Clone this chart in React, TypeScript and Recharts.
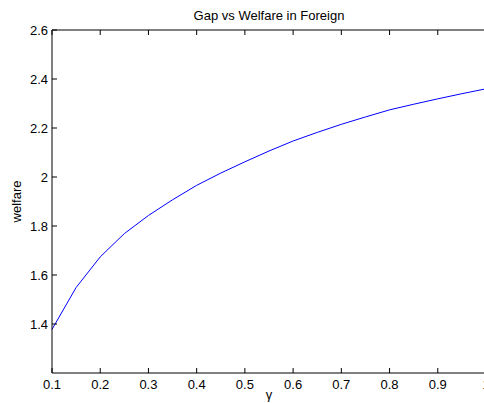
import React from 'react';
import { LineChart, Line, XAxis, YAxis, Label } from 'recharts';

// gamma grid and the welfare values
const gammaValues = [
  0.1, 0.15, 0.2, 0.25, 0.3, 0.35, 0.4, 0.45, 0.5, 0.55,
  0.6, 0.65, 0.7, 0.75, 0.8, 0.85, 0.9, 0.95, 1.0,
];
const welfareValues = [
  1.378, 1.549, 1.674, 1.769, 1.843, 1.907, 1.966, 2.016, 2.062, 2.106,
  2.147, 2.182, 2.215, 2.245, 2.274, 2.297, 2.319, 2.34, 2.36,
];
const xTicks = [0.1, 0.2, 0.3, 0.4, 0.5, 0.6, 0.7, 0.8, 0.9, 1];
const yTicks = [1.4, 1.6, 1.8, 2, 2.2, 2.4, 2.6];

const data = gammaValues.map((g, i) => ({ gamma: g, welfare: welfareValues[i] }));

const font = '"Liberation Sans", Arial, Helvetica, sans-serif';
const FS = 13;
const TICK = 5;

const BottomTick = (props: any) => {
  const { x, y, payload } = props;
  return (
    <g>
      <line x1={x} x2={x} y1={y} y2={y - TICK} stroke="#000" />
      <text x={x} y={y + 16} textAnchor="middle" fontSize={FS} fontFamily={font} fill="#000">
        {String(payload.value)}
      </text>
    </g>
  );
};

const TopTick = (props: any) => {
  const { x, y } = props;
  return <line x1={x} x2={x} y1={y} y2={y + TICK} stroke="#000" />;
};

const LeftTick = (props: any) => {
  const { x, y, payload } = props;
  return (
    <g>
      <line x1={x} x2={x + TICK} y1={y} y2={y} stroke="#000" />
      <text x={x - 4} y={y + 5} textAnchor="end" fontSize={FS} fontFamily={font} fill="#000">
        {String(payload.value)}
      </text>
    </g>
  );
};

const RightTick = (props: any) => {
  const { x, y } = props;
  return <line x1={x} x2={x - TICK} y1={y} y2={y} stroke="#000" />;
};

export default function App() {
  return (
    <div
      style={{
        position: 'absolute',
        left: 0,
        top: 0,
        width: 484,
        height: 403,
        overflow: 'hidden',
        background: '#fff',
      }}
    >
      <LineChart
        width={490}
        height={403}
        data={data}
        margin={{ top: 20, right: 4, bottom: 0, left: 0 }}
      >
        <XAxis
          dataKey="gamma"
          type="number"
          domain={[0.1, 1]}
          ticks={xTicks}
          height={30}
          tickSize={0}
          tickMargin={0}
          tickLine={false}
          axisLine={{ stroke: '#000' }}
          tick={<BottomTick />}
          interval={0}
        >
          <Label
            value="γ"
            position="insideBottom"
            offset={4}
            style={{ fontSize: FS, fontFamily: font, fill: '#000' }}
          />
        </XAxis>
        <XAxis
          xAxisId="top"
          dataKey="gamma"
          orientation="top"
          type="number"
          domain={[0.1, 1]}
          ticks={xTicks}
          height={10}
          tickSize={0}
          tickMargin={0}
          tickLine={false}
          axisLine={{ stroke: '#000' }}
          tick={<TopTick />}
          interval={0}
        >
          <Label
            value="Gap vs Welfare in Foreign"
            position="insideTop"
            offset={-9}
            style={{ fontSize: FS, fontFamily: font, fill: '#000' }}
          />
        </XAxis>
        <YAxis
          type="number"
          domain={[1.2, 2.6]}
          ticks={yTicks}
          width={52}
          tickSize={0}
          tickMargin={0}
          tickLine={false}
          axisLine={{ stroke: '#000' }}
          tick={<LeftTick />}
          interval={0}
        >
          <Label
            value="welfare"
            angle={-90}
            position="insideLeft"
            offset={16}
            style={{ fontSize: FS, fontFamily: font, fill: '#000', textAnchor: 'middle' }}
          />
        </YAxis>
        <YAxis
          yAxisId="right"
          orientation="right"
          type="number"
          domain={[1.2, 2.6]}
          ticks={yTicks}
          width={0}
          tickSize={0}
          tickMargin={0}
          tickLine={false}
          axisLine={{ stroke: '#000' }}
          tick={<RightTick />}
          interval={0}
        />
        <Line
          type="linear"
          dataKey="welfare"
          stroke="#0000ff"
          strokeWidth={1}
          dot={false}
          isAnimationActive={false}
        />
      </LineChart>
    </div>
  );
}
